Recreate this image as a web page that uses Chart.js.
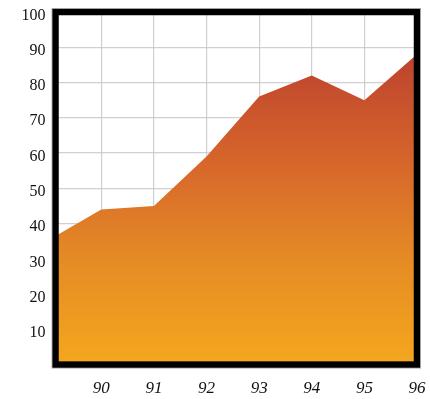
<!DOCTYPE html>
<html>
<head>
<meta charset="utf-8">
<script src="https://cdn.jsdelivr.net/npm/chart.js@4/dist/chart.umd.min.js"></script>
<style>
  html, body { margin: 0; padding: 0; background: #ffffff; }
  #wrap { width: 430px; height: 399px; position: relative; }
</style>
</head>
<body>
<div id="wrap"><canvas id="chart"></canvas></div>
<script>
// Series: year positions along the axis and the plotted values
const years = [89.13, 90, 91, 92, 93, 94, 95, 96];
const values = [36.5, 44, 45, 59, 76, 82, 75, 88];
// Tick labels
const xTicks = [90, 91, 92, 93, 94, 95, 96];
const yTicks = [10, 20, 30, 40, 50, 60, 70, 80, 90, 100];

const points = years.map((x, i) => ({ x: x, y: values[i] }));

// Heavy black frame around the plot area, with a faint grey outline outside it
const framePlugin = {
  id: 'frame',
  afterDraw(chart) {
    const a = chart.chartArea;
    const ctx = chart.ctx;
    ctx.save();
    ctx.strokeStyle = '#000000';
    ctx.lineWidth = 6.5;
    ctx.strokeRect(a.left, a.top, a.right - a.left, a.bottom - a.top);
    ctx.strokeStyle = 'rgba(140,140,140,0.7)';
    ctx.lineWidth = 0.8;
    const o = 3.6;
    ctx.strokeRect(a.left - o, a.top - o, a.right - a.left + 2 * o, a.bottom - a.top + 2 * o);
    ctx.restore();
  }
};

// Keep the plot area fixed regardless of label overhang
function noPadding(scale) {
  scale.paddingLeft = 0;
  scale.paddingRight = 0;
  scale.paddingTop = 0;
  scale.paddingBottom = 0;
}

const ctx = document.getElementById('chart');
new Chart(ctx, {
  type: 'line',
  data: {
    datasets: [{
      data: points,
      borderWidth: 0,
      pointRadius: 0,
      tension: 0,
      fill: 'origin',
      backgroundColor(context) {
        const area = context.chart.chartArea;
        if (!area) return '#e08030';
        const g = context.chart.ctx.createLinearGradient(0, area.top, 0, area.bottom);
        g.addColorStop(0, '#b83e2f');
        g.addColorStop(0.16, '#c0472e');
        g.addColorStop(0.42, '#d6652b');
        g.addColorStop(0.70, '#e58b25');
        g.addColorStop(1, '#f5a71e');
        return g;
      }
    }]
  },
  options: {
    responsive: true,
    maintainAspectRatio: false,
    animation: false,
    layout: { padding: { left: 0, top: 12, right: 13, bottom: 0 } },
    plugins: { legend: { display: false }, tooltip: { enabled: false } },
    scales: {
      x: {
        type: 'linear',
        min: years[0],
        max: 96,
        z: 1,
        border: { display: false },
        grid: { color: 'rgba(200,200,200,0.85)', lineWidth: 1.2, drawTicks: false },
        afterBuildTicks(scale) { scale.ticks = xTicks.map(v => ({ value: v })); },
        afterFit(scale) { scale.height = 34.4; noPadding(scale); },
        ticks: {
          padding: 14,
          maxRotation: 0,
          autoSkip: false,
          color: '#111111',
          font: { family: '"Liberation Serif", "DejaVu Serif", serif', size: 17, style: 'italic' },
          callback: v => String(v)
        }
      },
      y: {
        min: 0,
        max: 100,
        z: 1,
        border: { display: false },
        grid: { color: 'rgba(200,200,200,0.85)', lineWidth: 1.2, drawTicks: false },
        afterBuildTicks(scale) { scale.ticks = [0].concat(yTicks).map(v => ({ value: v })); },
        afterFit(scale) { scale.width = 55.5; noPadding(scale); },
        ticks: {
          padding: 10,
          labelOffset: 3.5,
          color: '#111111',
          font: { family: '"Liberation Serif", "DejaVu Serif", serif', size: 16 },
          callback: v => (v === 0 ? '' : String(v))
        }
      }
    }
  },
  plugins: [framePlugin]
});
</script>
</body>
</html>
